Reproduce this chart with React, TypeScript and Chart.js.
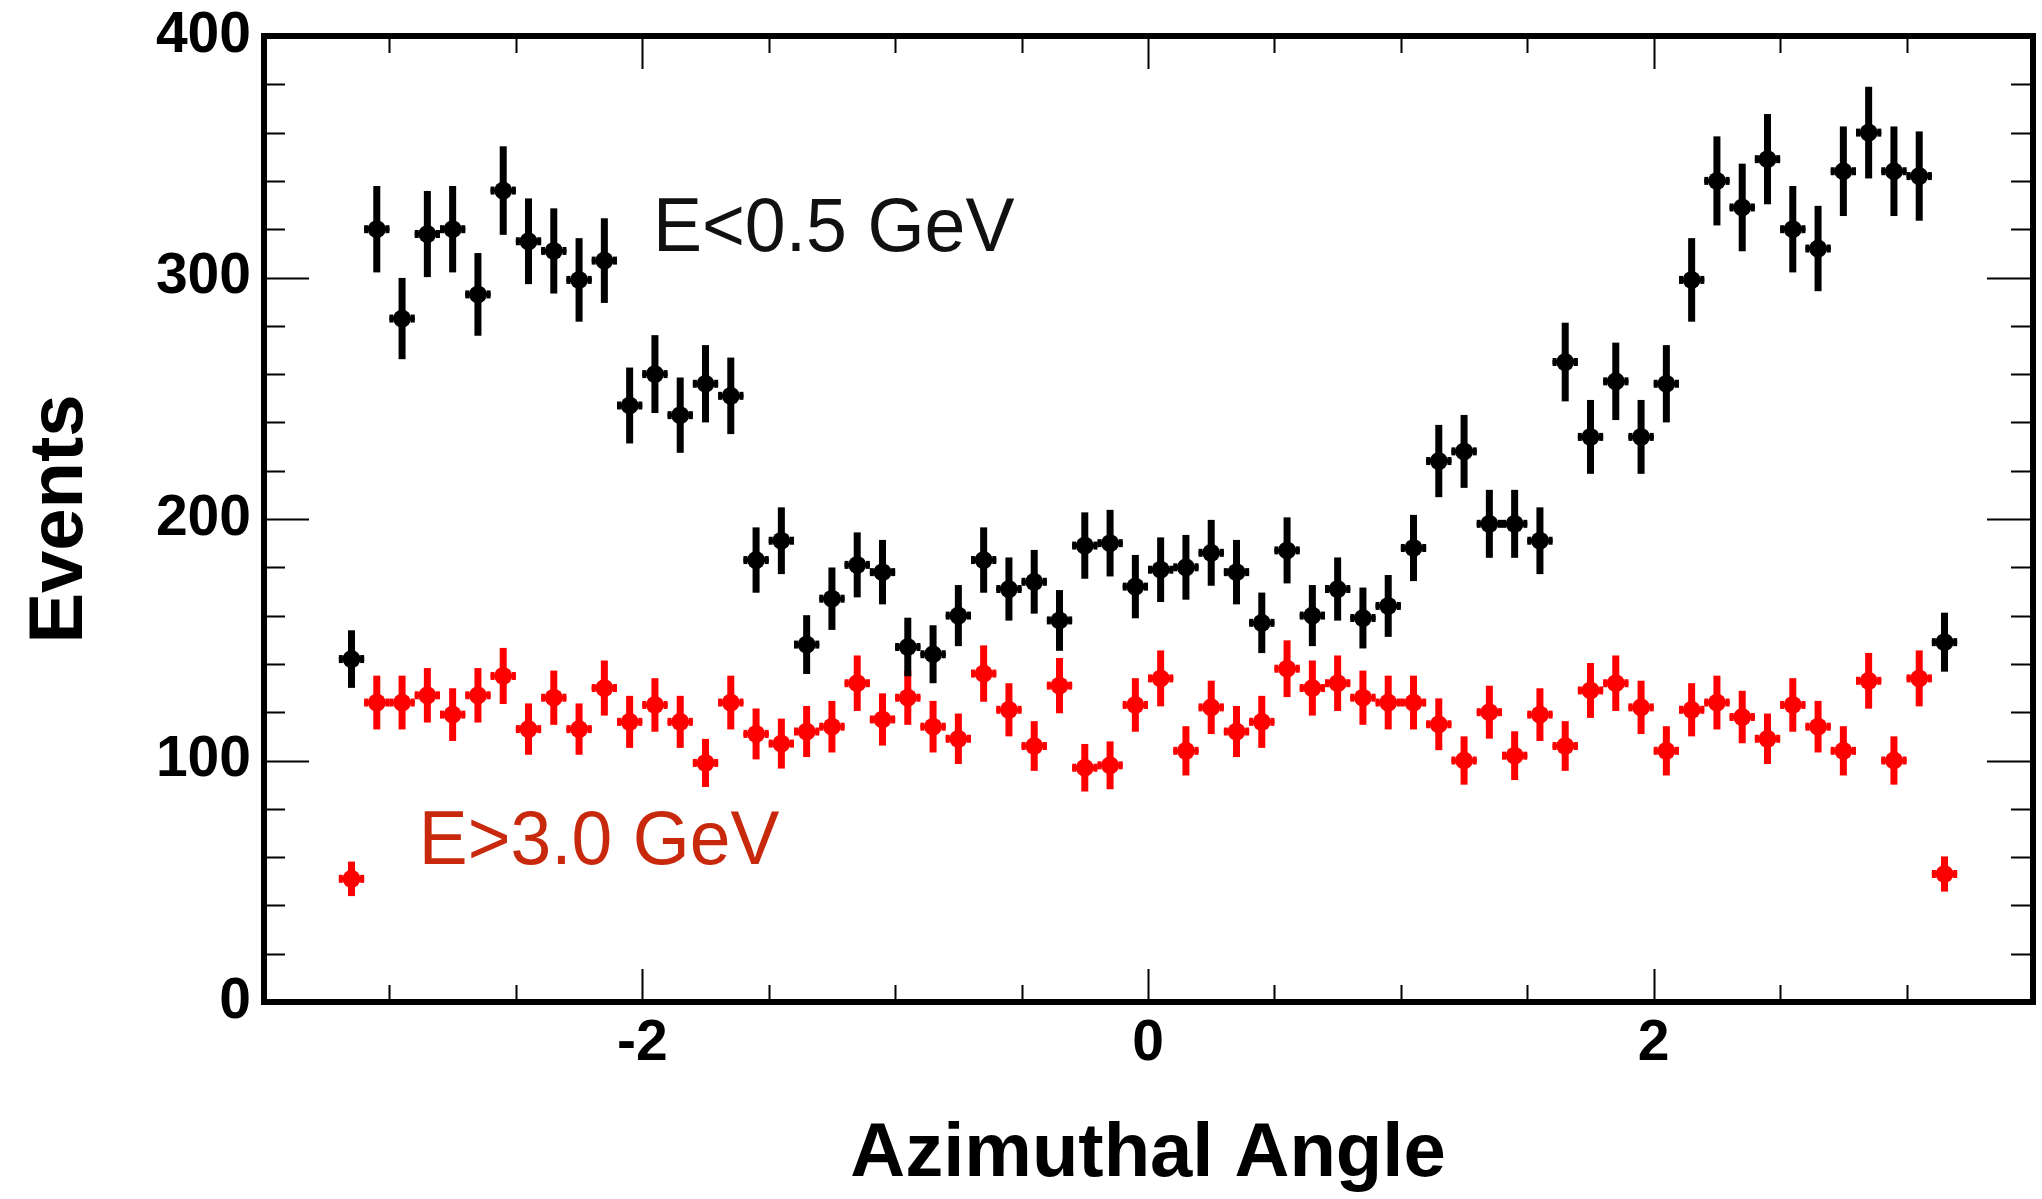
import React, { useEffect, useRef } from "react";
import { Chart, registerables } from "chart.js";

Chart.register(...registerables);

// ---- data ----
const binCenters = [
  -3.15, -3.05, -2.95, -2.85, -2.75, -2.65, -2.55, -2.45, -2.35, -2.25, -2.15, -2.05,
  -1.95, -1.85, -1.75, -1.65, -1.55, -1.45, -1.35, -1.25, -1.15, -1.05, -0.95, -0.85,
  -0.75, -0.65, -0.55, -0.45, -0.35, -0.25, -0.15, -0.05, 0.05, 0.15, 0.25, 0.35,
  0.45, 0.55, 0.65, 0.75, 0.85, 0.95, 1.05, 1.15, 1.25, 1.35, 1.45, 1.55,
  1.65, 1.75, 1.85, 1.95, 2.05, 2.15, 2.25, 2.35, 2.45, 2.55, 2.65, 2.75,
  2.85, 2.95, 3.05, 3.15,
];

const lowEnergyCounts = [
  142, 320, 283, 318, 320, 293, 336, 315, 311, 299, 307, 247, 260, 243, 256, 251,
  183, 191, 148, 167, 181, 178, 147, 144, 160, 183, 171, 174, 158, 189, 190, 172,
  179, 180, 186, 178, 157, 187, 160, 171, 159, 164, 188, 224, 228, 198, 198, 191,
  265, 234, 257, 234, 256, 299, 340, 329, 349, 320, 312, 344, 360, 344, 342, 149,
];

const highEnergyCounts = [
  51, 124, 124, 127, 119, 127, 135, 113, 126, 113, 130, 116, 123, 116, 99, 124,
  111, 107, 112, 114, 132, 117, 126, 114, 109, 136, 121, 106, 131, 97, 98, 123,
  134, 104, 122, 112, 116, 138, 130, 132, 126, 124, 124, 115, 100, 120, 102, 119,
  106, 129, 132, 122, 104, 121, 124, 118, 109, 123, 114, 104, 133, 100, 134, 53,
];

const halfBinWidth = 0.05;
const seriesLabels = ["E<0.5 GeV", "E>3.0 GeV"];
const xAxisTitle = "Azimuthal Angle";
const yAxisTitle = "Events";

const W = 2042;
const H = 1199;

const rootStylePlugin = {
  id: "rootStyle",
  beforeDatasetsDraw(chart: any) {
    const ctx = chart.ctx;
    const xs = chart.scales.x;
    const ys = chart.scales.y;
    ctx.save();
    for (let di = chart.data.datasets.length - 1; di >= 0; di--) {
      const ds = chart.data.datasets[di];
      const meta = chart.getDatasetMeta(di);
      ctx.fillStyle = ds.backgroundColor;
      meta.data.forEach((pt: any, i: number) => {
        const raw = ds.data[i];
        const err = Math.sqrt(raw.y);
        const px = pt.x;
        const py = pt.y;
        const yTop = ys.getPixelForValue(raw.y + err);
        const yBot = ys.getPixelForValue(raw.y - err);
        ctx.fillRect(px - 3.5, yTop, 7, yBot - yTop);
        const xL = xs.getPixelForValue(raw.x - halfBinWidth);
        const xR = xs.getPixelForValue(raw.x + halfBinWidth);
        ctx.fillRect(xL, py - 2, xR - xL, 4);
        ctx.fillRect(xL, py - 4, 4, 8);
        ctx.fillRect(xR - 4, py - 4, 4, 8);
      });
    }
    ctx.restore();
  },
  afterDatasetsDraw(chart: any, _args: any, opts: any) {
    const ctx = chart.ctx;
    const { left, right, top, bottom } = chart.chartArea;
    const xs = chart.scales.x;
    const ys = chart.scales.y;
    ctx.save();
    ctx.strokeStyle = "#000";
    // ticks
    ctx.lineWidth = 2;
    ys.ticks.forEach((t: any) => {
      const v = t.value;
      if (v <= 0 || v >= 400) return;
      const major = Math.abs(v / 100 - Math.round(v / 100)) < 1e-6;
      const len = major ? 46 : 22;
      const py = Math.round(ys.getPixelForValue(v)) + 0.5;
      ctx.beginPath();
      ctx.moveTo(left, py);
      ctx.lineTo(left + len, py);
      ctx.moveTo(right, py);
      ctx.lineTo(right - len, py);
      ctx.stroke();
    });
    xs.ticks.forEach((t: any) => {
      const v = t.value;
      if (v <= -3.5 || v >= 3.5) return;
      const major = Math.abs(v / 2 - Math.round(v / 2)) < 1e-6;
      const len = major ? 33 : 17;
      const px = Math.round(xs.getPixelForValue(v)) + 0.5;
      ctx.beginPath();
      ctx.moveTo(px, bottom);
      ctx.lineTo(px, bottom - len);
      ctx.moveTo(px, top);
      ctx.lineTo(px, top + len);
      ctx.stroke();
    });
    // frame
    ctx.lineWidth = 6;
    ctx.strokeRect(left + 1, top, right - left - 1, bottom - top);
    // annotations
    (opts.annotations || []).forEach((a: any) => {
      ctx.font = `${a.size}px "Liberation Sans", Arial, sans-serif`;
      ctx.fillStyle = a.color;
      ctx.textBaseline = "alphabetic";
      ctx.textAlign = "left";
      const m = ctx.measureText(a.text);
      const ink = m.actualBoundingBoxLeft + m.actualBoundingBoxRight;
      const sx = a.inkWidth / ink;
      const px = xs.getPixelForValue(a.x);
      const py = ys.getPixelForValue(a.y);
      ctx.save();
      ctx.translate(px, py);
      ctx.scale(sx, 1);
      ctx.fillText(a.text, m.actualBoundingBoxLeft, 0);
      ctx.restore();
    });
    ctx.restore();
  },
};

export default function App() {
  const canvasRef = useRef<HTMLCanvasElement | null>(null);

  useEffect(() => {
    const canvas = canvasRef.current;
    if (!canvas) return;
    const chart = new Chart(canvas, {
      type: "scatter",
      data: {
        datasets: [
          {
            label: seriesLabels[0],
            data: binCenters.map((x, i) => ({ x, y: lowEnergyCounts[i] })),
            backgroundColor: "#000000",
            borderColor: "#000000",
            pointRadius: 9,
            pointBorderWidth: 0,
            pointHoverRadius: 9,
          },
          {
            label: seriesLabels[1],
            data: binCenters.map((x, i) => ({ x, y: highEnergyCounts[i] })),
            backgroundColor: "#ff0000",
            borderColor: "#ff0000",
            pointRadius: 9,
            pointBorderWidth: 0,
            pointHoverRadius: 9,
          },
        ],
      },
      options: {
        responsive: false,
        animation: false,
        events: [],
        layout: { padding: { left: 0, right: 3, top: 36, bottom: 0 } },
        plugins: {
          legend: { display: false },
          tooltip: { enabled: false },
          rootStyle: {
            annotations: [
              { text: seriesLabels[0], x: -1.935, y: 311, color: "#111111", size: 76, inkWidth: 356 },
              { text: seriesLabels[1], x: -2.861, y: 57, color: "#c8290c", size: 76, inkWidth: 355 },
            ],
          },
        } as any,
        scales: {
          x: {
            type: "linear",
            min: -3.5,
            max: 3.5,
            grid: { display: false, drawTicks: false },
            border: { display: false },
            ticks: {
              stepSize: 0.5,
              autoSkip: false,
              maxRotation: 0,
              minRotation: 0,
              padding: 8,
              color: "#000",
              font: { family: '"Liberation Sans", Arial, sans-serif', size: 57, weight: "bold" },
              callback: (v: any) => {
                const n = Number(v);
                return Math.abs(n / 2 - Math.round(n / 2)) < 1e-6 ? String(Math.round(n)) : "";
              },
            },
            title: {
              display: true,
              text: xAxisTitle,
              color: "#000",
              padding: { top: 0, bottom: 0 },
              font: { family: '"Liberation Sans", Arial, sans-serif', size: 76, weight: "bold", lineHeight: 1.16 },
            },
            afterFit: (scale: any) => {
              scale.height = H - 1002;
              scale.paddingLeft = 0;
              scale.paddingRight = 0;
            },
          },
          y: {
            type: "linear",
            min: 0,
            max: 400,
            grid: { display: false, drawTicks: false },
            border: { display: false },
            ticks: {
              stepSize: 20,
              autoSkip: false,
              padding: 12,
              color: "#000",
              font: { family: '"Liberation Sans", Arial, sans-serif', size: 57, weight: "bold" },
              callback: (v: any) => {
                const n = Number(v);
                return Math.abs(n / 100 - Math.round(n / 100)) < 1e-6 ? String(Math.round(n)) : "";
              },
            },
            title: {
              display: true,
              text: yAxisTitle,
              color: "#000",
              padding: { top: 15, bottom: 0 },
              font: { family: '"Liberation Sans", Arial, sans-serif', size: 76, weight: "bold", lineHeight: 1.2 },
            },
            afterFit: (scale: any) => {
              scale.width = 263;
              scale.paddingTop = 0;
              scale.paddingBottom = 0;
            },
          },
        },
      },
      plugins: [rootStylePlugin],
    });
    return () => chart.destroy();
  }, []);

  return (
    <div style={{ position: "fixed", left: 0, top: 0, width: W, height: H, background: "#fff" }}>
      <canvas ref={canvasRef} width={W} height={H} style={{ display: "block", width: W, height: H }} />
    </div>
  );
}
